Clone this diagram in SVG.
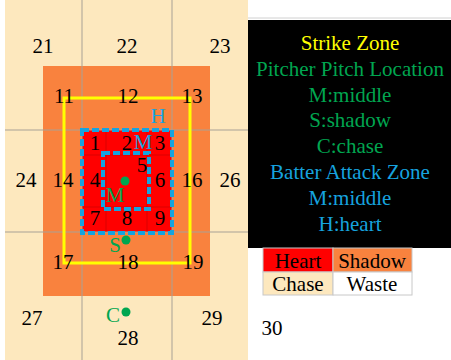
<svg xmlns="http://www.w3.org/2000/svg" width="451" height="360" viewBox="0 0 451 360">
<style>
text{text-anchor:middle;font-family:"Liberation Serif","Times New Roman",serif}
.n{font-size:21px;fill:#000}
.g{fill:#00A650}
.b{fill:#16A3DF}
.lg{font-size:21px}
.grid{stroke:#A8A196;stroke-width:1;fill:none}
.inner{stroke:#B00000;stroke-width:0.8;fill:none;opacity:0.6}
.dash{fill:none;stroke:#16A3DF;stroke-width:4;stroke-dasharray:7 3}
.dot{fill:#00A650}
</style>
<rect x="0" y="0" width="451" height="360" fill="#FFFFFF"/>
<g id="chase-zone"><rect x="5" y="0" width="243" height="360" fill="#FDE8BE"/></g>
<g id="shadow-zone"><rect x="43" y="66" width="167" height="230" fill="#F9823E"/></g>
<g id="heart-zone"><rect x="82" y="130" width="90" height="102" fill="#FF0000"/></g>
<g id="connectors">
<line class="grid" x1="82" y1="0" x2="82" y2="360"/>
<line class="grid" x1="172" y1="0" x2="172" y2="360"/>
<line class="grid" x1="5" y1="130" x2="248" y2="130"/>
<line class="grid" x1="5" y1="232" x2="248" y2="232"/>
<line class="inner" x1="106" y1="130" x2="106" y2="232"/>
<line class="inner" x1="147" y1="130" x2="147" y2="232"/>
<line class="inner" x1="82" y1="155" x2="172" y2="155"/>
<line class="inner" x1="82" y1="207" x2="172" y2="207"/>
<line x1="248" y1="18" x2="451" y2="18" stroke="#D0D0D0" stroke-width="1"/>
</g>
<g id="strike-zone"><rect x="64" y="98" width="126" height="165" fill="none" stroke="#FFFF00" stroke-width="3"/></g>
<g id="attack-heart"><rect x="82" y="130" width="90" height="103" class="dash"/><text class="n b" x="158" y="123">H</text></g>
<g id="attack-middle"><rect x="103" y="153" width="46" height="56" class="dash"/><text class="n b" x="143" y="149">M</text></g>
<g id="numbers">
<text class="n" x="43" y="53">21</text>
<text class="n" x="127" y="53">22</text>
<text class="n" x="220" y="53">23</text>
<text class="n" x="64" y="103">11</text>
<text class="n" x="128" y="103">12</text>
<text class="n" x="192" y="103">13</text>
<text class="n" x="95" y="150">1</text>
<text class="n" x="127" y="150">2</text>
<text class="n" x="160" y="150">3</text>
<text class="n" x="142" y="172">5</text>
<text class="n" x="26" y="187">24</text>
<text class="n" x="63" y="187">14</text>
<text class="n" x="95" y="187">4</text>
<text class="n" x="160" y="187">6</text>
<text class="n" x="192" y="187">16</text>
<text class="n" x="230" y="187">26</text>
<text class="n" x="95" y="225">7</text>
<text class="n" x="127" y="225">8</text>
<text class="n" x="160" y="225">9</text>
<text class="n" x="63" y="269">17</text>
<text class="n" x="128" y="269">18</text>
<text class="n" x="193" y="269">19</text>
<text class="n" x="32" y="325">27</text>
<text class="n" x="128" y="345">28</text>
<text class="n" x="212" y="325">29</text>
<text class="n" x="272" y="335">30</text>
</g>
<g id="pitch-middle"><circle class="dot" cx="125" cy="181" r="4.5"/><text class="n g" x="115" y="202">M</text></g>
<g id="pitch-shadow"><circle class="dot" cx="126" cy="240" r="4.5"/><text class="n g" x="115" y="252">S</text></g>
<g id="pitch-chase"><circle class="dot" cx="126" cy="312" r="4.5"/><text class="n g" x="113" y="322">C</text></g>
<g id="legend-box">
<rect x="248" y="20" width="203" height="228" fill="#000000"/>
<text class="lg" x="350" y="50" fill="#FFFF00">Strike Zone</text>
<text class="lg g" x="350" y="76">Pitcher Pitch Location</text>
<text class="lg g" x="350" y="102">M:middle</text>
<text class="lg g" x="350" y="127">S:shadow</text>
<text class="lg g" x="350" y="153">C:chase</text>
<text class="lg b" x="350" y="179">Batter Attack Zone</text>
<text class="lg b" x="350" y="205">M:middle</text>
<text class="lg b" x="350" y="231">H:heart</text>
</g>
<g id="color-legend">
<rect x="263" y="248" width="70" height="24" fill="#FF0000" stroke="#C8C8C8" stroke-width="1"/>
<rect x="333" y="248" width="79" height="24" fill="#F9823E" stroke="#C8C8C8" stroke-width="1"/>
<rect x="263" y="272" width="70" height="23" fill="#FDE8BE" stroke="#C8C8C8" stroke-width="1"/>
<rect x="333" y="272" width="79" height="23" fill="#FFFFFF" stroke="#C8C8C8" stroke-width="1"/>
<text class="lg" x="298" y="268">Heart</text>
<text class="lg" x="372" y="268">Shadow</text>
<text class="lg" x="298" y="291">Chase</text>
<text class="lg" x="372" y="291">Waste</text>
</g>
</svg>
